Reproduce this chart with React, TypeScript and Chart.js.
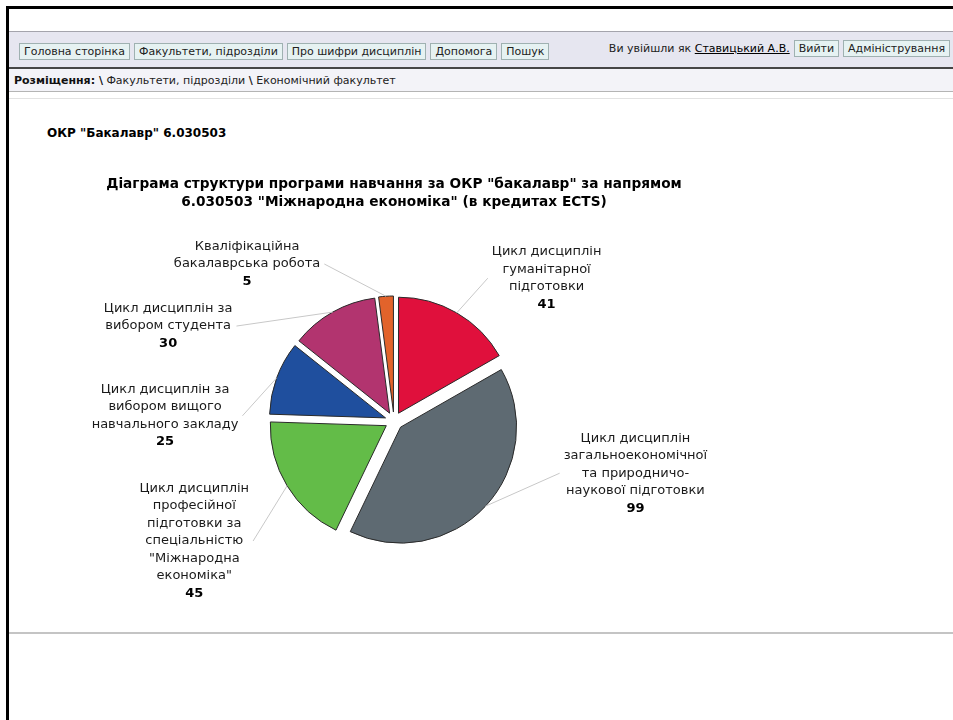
import React, { useEffect, useRef } from "react";
import { Chart, registerables } from "chart.js";

Chart.register(...registerables);

// ---- data ----
const categories: string[][] = [
  ["Цикл дисциплін", "гуманітарної", "підготовки"],
  ["Цикл дисциплін", "загальноекономічної", "та природничо-", "наукової підготовки"],
  ["Цикл дисциплін", "професійної", "підготовки за", "спеціальністю", "\"Міжнародна", "економіка\""],
  ["Цикл дисциплін за", "вибором вищого", "навчального закладу"],
  ["Цикл дисциплін за", "вибором студента"],
  ["Кваліфікаційна", "бакалаврська робота"],
];
const credits = [41, 99, 45, 25, 30, 5];
const titleLines = [
  "Діаграма структури програми навчання за ОКР \"бакалавр\" за напрямом",
  "6.030503 \"Міжнародна економіка\" (в кредитах ECTS)",
];
const navButtons = ["Головна сторінка", "Факультети, підрозділи", "Про шифри дисциплін", "Допомога", "Пошук"];

// ---- styling / layout ----
const sliceColors = ["#e0103c", "#5e6a72", "#63bc48", "#1f4f9e", "#b2346f", "#e2632b"];
const labelAngles = [46.9, 102.2, 239, 271.3, 292.8, 316.9]; // degrees clockwise from top
const labelDistances = [209, 247, 233, 229, 245, 215]; // px from pie centre
const EXPLODE = 9;
const FONT = "'DejaVu Sans', Verdana, sans-serif";

const explodePlugin = {
  id: "explode",
  beforeDatasetDraw(chart: any, args: any) {
    const ctx = chart.ctx;
    args.meta.data.forEach((arc: any) => {
      const mid = (arc.startAngle + arc.endAngle) / 2;
      ctx.save();
      ctx.translate(Math.cos(mid) * EXPLODE, Math.sin(mid) * EXPLODE);
      arc.draw(ctx, chart.chartArea);
      ctx.restore();
    });
    return false;
  },
};

const labelPlugin = {
  id: "pieLabels",
  afterDatasetsDraw(chart: any) {
    const meta = chart.getDatasetMeta(0);
    const ctx = chart.ctx;
    const lh = 17.5;
    const values = chart.data.datasets[0].data as number[];
    const labels = chart.data.labels as string[][];
    meta.data.forEach((arc: any, i: number) => {
      const { x, y, startAngle, endAngle, outerRadius } = arc;
      const mid = (startAngle + endAngle) / 2;
      const px = x + Math.cos(mid) * (outerRadius + EXPLODE);
      const py = y + Math.sin(mid) * (outerRadius + EXPLODE);
      const a = ((labelAngles[i] - 90) * Math.PI) / 180;
      const cx = x + Math.cos(a) * labelDistances[i];
      const cy = y + Math.sin(a) * labelDistances[i];
      const lines = labels[i];
      ctx.save();
      ctx.font = `13px ${FONT}`;
      const w = Math.max(...lines.map((l) => ctx.measureText(l).width));
      const n = lines.length + 1;
      const top = cy - (n * lh) / 2;
      const ex = cx > x ? cx - w / 2 - 4 : cx + w / 2 + 4;
      ctx.strokeStyle = "#c8c8c8";
      ctx.lineWidth = 1;
      ctx.beginPath();
      ctx.moveTo(px, py);
      ctx.lineTo(ex, cy);
      ctx.stroke();
      ctx.fillStyle = "#1a1a1a";
      ctx.textAlign = "center";
      ctx.textBaseline = "middle";
      lines.forEach((l, k) => ctx.fillText(l, cx, top + lh * (k + 0.5)));
      ctx.font = `bold 13px ${FONT}`;
      ctx.fillStyle = "#000";
      ctx.fillText(String(values[i]), cx, top + lh * (lines.length + 0.5));
      ctx.restore();
    });
  },
};

const btn: React.CSSProperties = {
  display: "inline-block",
  background: "#e6f2f2",
  border: "1px solid #9fb1b1",
  padding: "0 4px",
  lineHeight: "15px",
  fontSize: 11,
  color: "#222",
  marginRight: 4,
  whiteSpace: "nowrap",
};

export default function App() {
  const ref = useRef<HTMLCanvasElement>(null);
  useEffect(() => {
    const chart = new Chart(ref.current!, {
      type: "pie",
      data: {
        labels: categories,
        datasets: [
          {
            data: credits,
            backgroundColor: sliceColors,
            borderColor: "#2a2a2a",
            borderWidth: 1,
          },
        ],
      },
      options: {
        responsive: false,
        animation: false,
        radius: 116,
        layout: { padding: 0 },
        plugins: {
          legend: { display: false },
          tooltip: { enabled: false },
          title: {
            display: true,
            text: titleLines,
            color: "#000",
            font: { family: FONT, size: 13.7, weight: "bold", lineHeight: 18 / 13.7 },
            padding: { top: 15, bottom: 8 },
          },
        },
      } as any,
      plugins: [explodePlugin, labelPlugin],
    });
    return () => chart.destroy();
  }, []);

  return (
    <div
      style={{
        position: "absolute",
        left: 0,
        top: 0,
        width: 953,
        height: 720,
        overflow: "hidden",
        background: "#fff",
        fontFamily: FONT,
      }}
    >
      {/* frame */}
      <div
        style={{
          position: "absolute",
          left: 6,
          top: 6,
          width: 960,
          height: 730,
          borderTop: "3px solid #000",
          borderLeft: "3px solid #000",
        }}
      />
      {/* nav bar */}
      <div
        style={{
          position: "absolute",
          left: 9,
          top: 31,
          width: 944,
          height: 35,
          background: "#e6e6f0",
          borderTop: "1px solid #a4a4ac",
          borderBottom: "2px solid #454545",
        }}
      />
      <div style={{ position: "absolute", left: 19, top: 40, whiteSpace: "nowrap" }}>
        {navButtons.map((b) => (
          <span key={b} style={btn}>
            {b}
          </span>
        ))}
      </div>
      <div style={{ position: "absolute", right: 3, top: 40, whiteSpace: "nowrap", fontSize: 11 }}>
        <span style={{ color: "#222", marginRight: 4 }}>
          Ви увійшли як <span style={{ textDecoration: "underline", color: "#000" }}>Ставицький А.В.</span>
        </span>
        <span style={btn}>Вийти</span>
        <span style={{ ...btn, marginRight: 0 }}>Адміністрування</span>
      </div>
      {/* breadcrumb */}
      <div
        style={{
          position: "absolute",
          left: 9,
          top: 69,
          width: 944,
          height: 22,
          background: "#f3f3f8",
          borderBottom: "1px solid #b4b4b4",
        }}
      />
      <div
        style={{
          position: "absolute",
          left: 14,
          top: 73,
          fontSize: 11,
          lineHeight: "15px",
          color: "#222",
          whiteSpace: "nowrap",
        }}
      >
        <b style={{ color: "#111" }}>Розміщення: \</b> Факультети, підрозділи <b>\</b> Економічний факультет
      </div>
      <div style={{ position: "absolute", left: 9, top: 98, width: 944, height: 1, background: "#e2e2e2" }} />
      {/* heading */}
      <div
        style={{
          position: "absolute",
          left: 47,
          top: 125,
          fontSize: 12,
          lineHeight: "16px",
          fontWeight: "bold",
          color: "#000",
          whiteSpace: "nowrap",
        }}
      >
        ОКР "Бакалавр" 6.030503
      </div>
      {/* chart */}
      <canvas ref={ref} width={708} height={463} style={{ position: "absolute", left: 40, top: 160 }} />
      {/* bottom rule */}
      <div style={{ position: "absolute", left: 9, top: 632, width: 944, height: 2, background: "#c4c4c4" }} />
    </div>
  );
}
